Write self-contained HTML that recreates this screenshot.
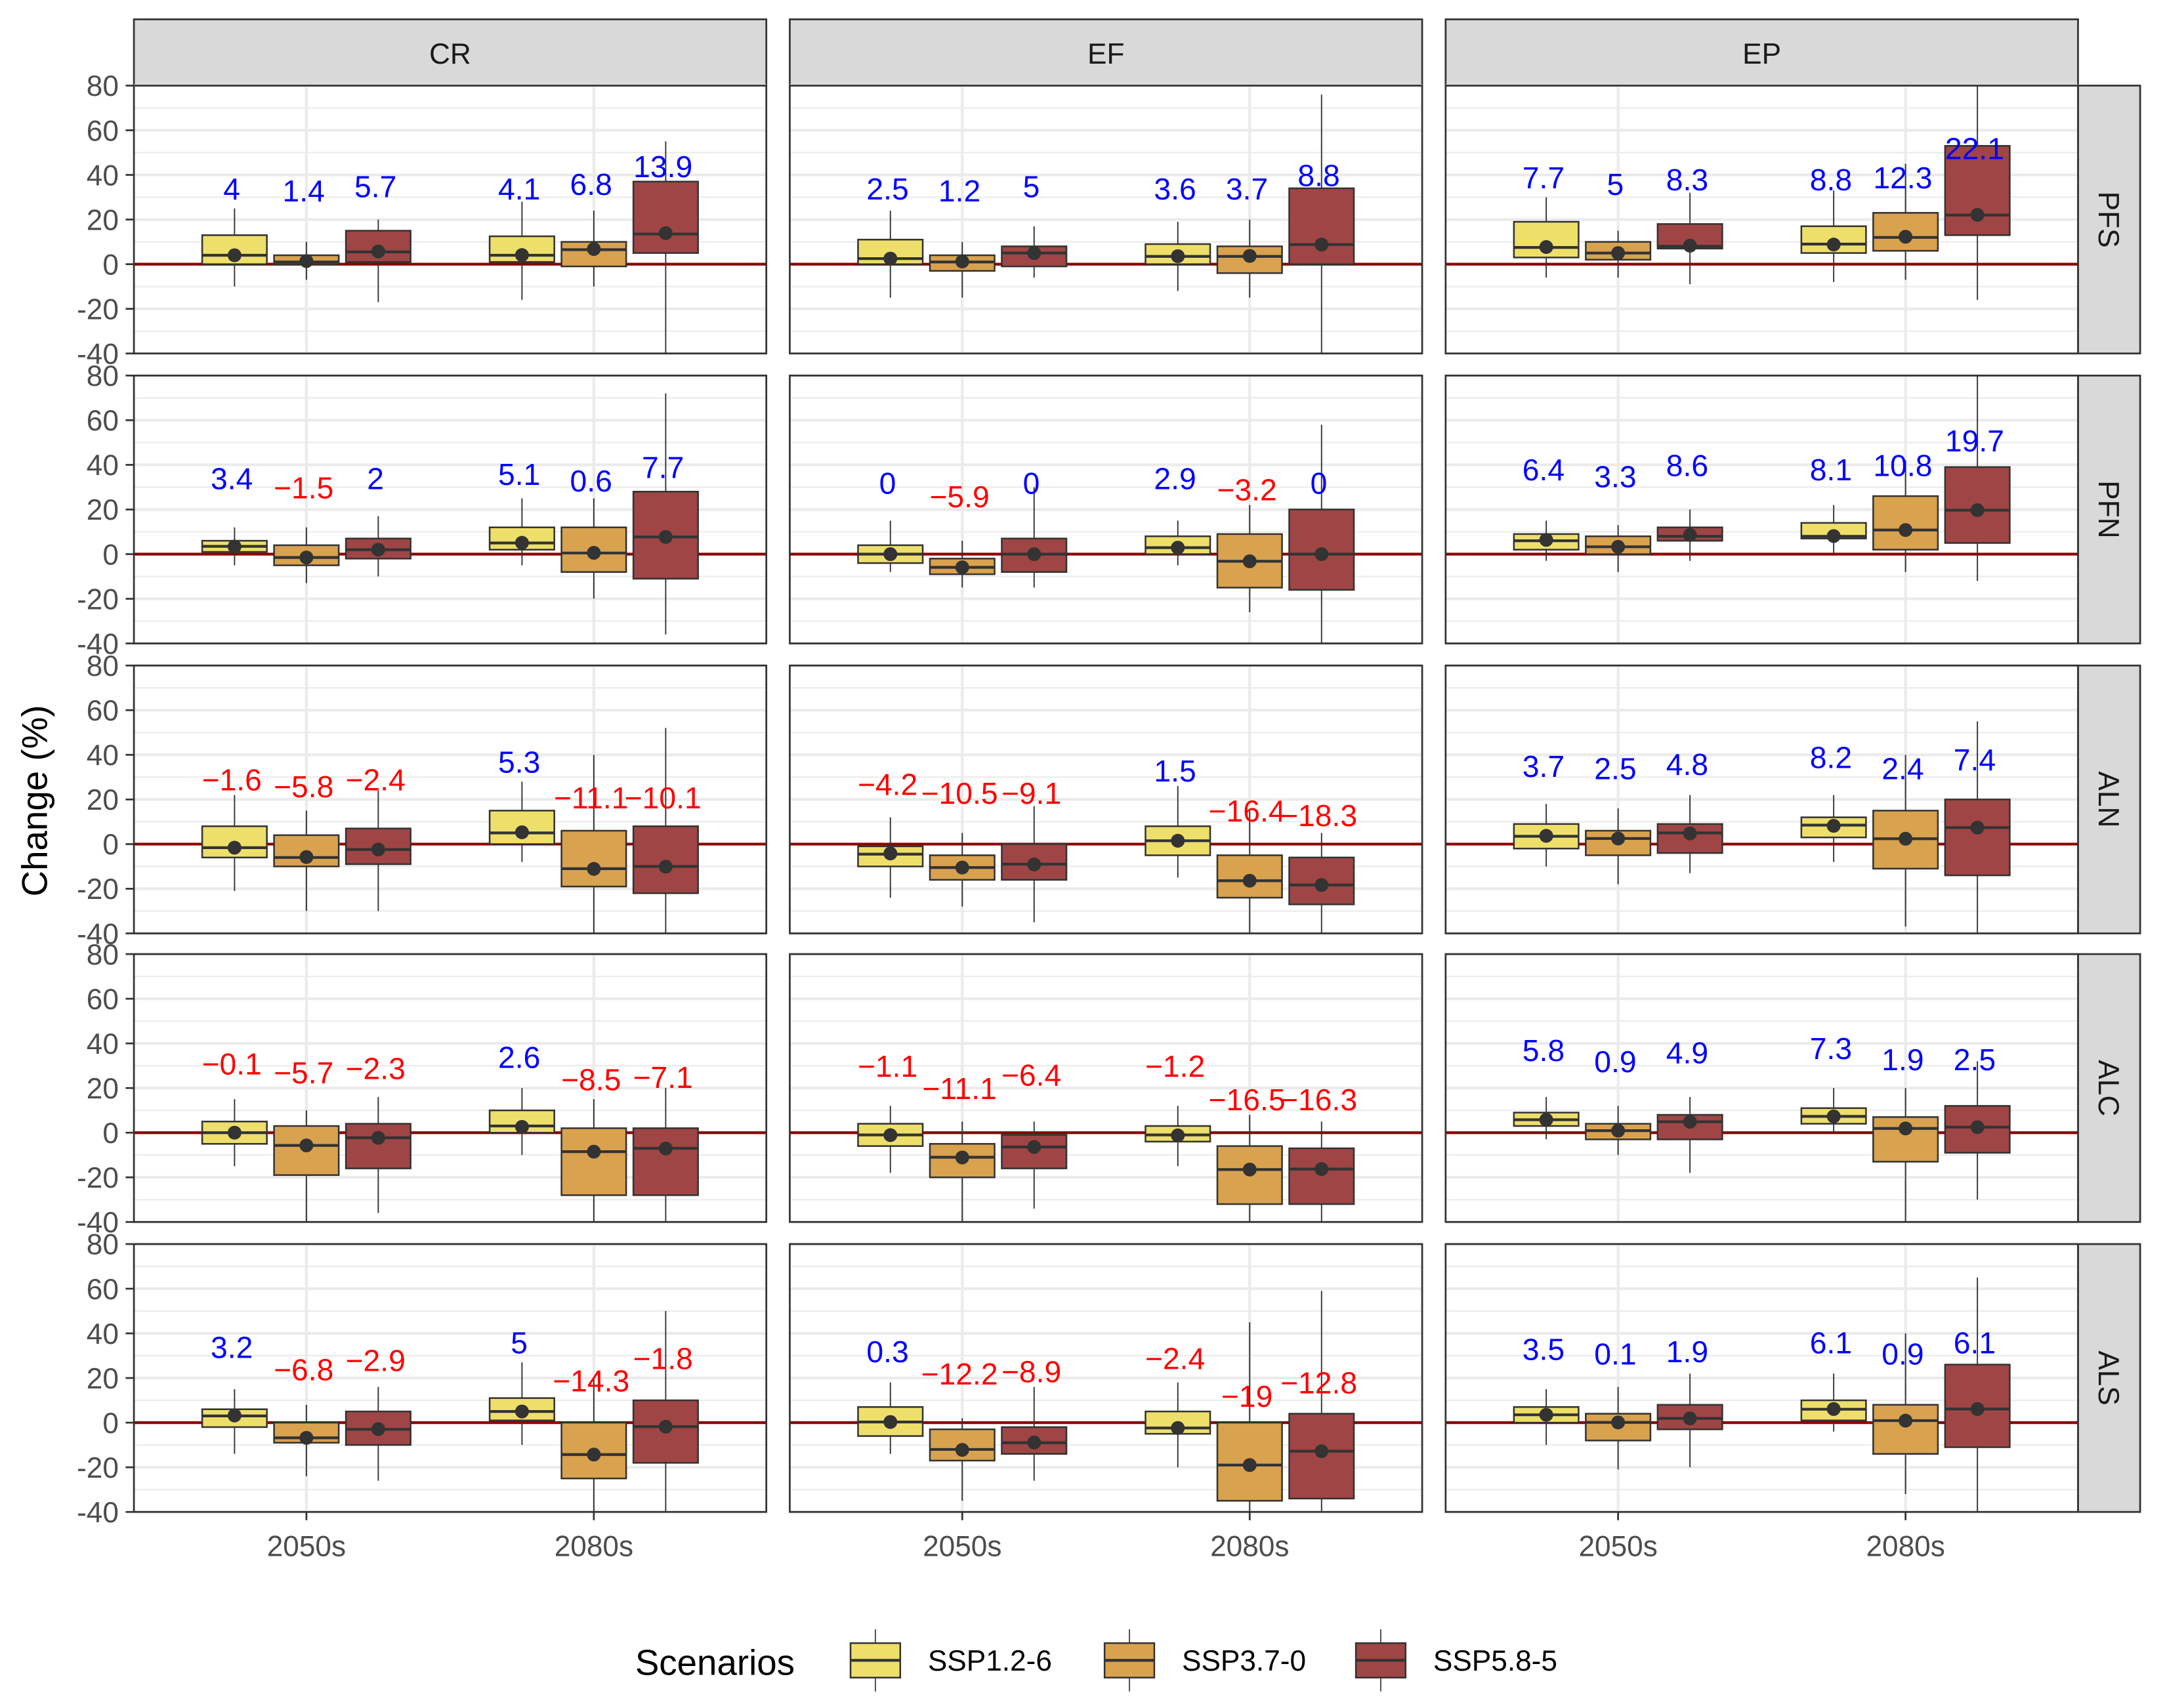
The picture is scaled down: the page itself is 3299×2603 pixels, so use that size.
<!DOCTYPE html>
<html><head><meta charset="utf-8"><style>
html,body{margin:0;padding:0;background:#fff;}
svg{display:block;font-family:"Liberation Sans",sans-serif;}
</style></head><body>
<svg id="chart" width="3299" height="2603" viewBox="0 0 1568 1237" preserveAspectRatio="none" xmlns="http://www.w3.org/2000/svg">
<rect width="1568" height="1237" fill="#fff"/>
<g id="plot"></g>
<text x="0" y="0" transform="translate(34,580) rotate(-90)" font-size="26" text-anchor="middle" fill="#000">Change (%)</text>
<g>
<text x="460" y="1213" font-size="26" fill="#000">Scenarios</text>
<g><line x1="634" y1="1180" x2="634" y2="1225" stroke="#333" stroke-width="0.8"/><rect x="616" y="1190" width="36" height="25" fill="#EEDF6B" stroke="#333" stroke-width="1.2"/><line x1="616" y1="1202.5" x2="652" y2="1202.5" stroke="#333" stroke-width="2"/><text x="672" y="1210" font-size="21" fill="#000">SSP1.2-6</text></g>
<g><line x1="818" y1="1180" x2="818" y2="1225" stroke="#333" stroke-width="0.8"/><rect x="800" y="1190" width="36" height="25" fill="#D9A24F" stroke="#333" stroke-width="1.2"/><line x1="800" y1="1202.5" x2="836" y2="1202.5" stroke="#333" stroke-width="2"/><text x="856" y="1210" font-size="21" fill="#000">SSP3.7-0</text></g>
<g><line x1="1000" y1="1180" x2="1000" y2="1225" stroke="#333" stroke-width="0.8"/><rect x="982" y="1190" width="36" height="25" fill="#A04545" stroke="#333" stroke-width="1.2"/><line x1="982" y1="1202.5" x2="1018" y2="1202.5" stroke="#333" stroke-width="2"/><text x="1038" y="1210" font-size="21" fill="#000">SSP5.8-5</text></g>
</g>
</svg>
<script>
const columns = ["CR","EF","EP"];
const rows = ["PFS","PFN","ALN","ALC","ALS"];
const periods = ["2050s","2080s"];
const scenarios = ["SSP1.2-6","SSP3.7-0","SSP5.8-5"];
const yTicks = [80,60,40,20,0,-20,-40];
const yTickLabels = ["80","60","40","20","0","-20","-40"];
// each entry: [whiskerLow, q1, median, q3, whiskerHigh, mean, labelY, labelText]
const boxStats = [
[[ [[-10,0,4,13,25,4,34,"4"],[-7,0,1,4,10,1.4,33,"1.4"],[-17,1,5.5,15,20,5.7,35,"5.7"]],
   [[-16,1,4,12.5,28,4.1,34,"4.1"],[-10,-1,6.5,10,24,6.8,36,"6.8"],[-40,5,13.5,37,55,13.9,44,"13.9"]] ],
 [ [[-15,0,2.5,11,24,2.5,34,"2.5"],[-15,-3,1,4,10,1.2,33,"1.2"],[-6,-1,5,8,17,5,35,"5"]],
   [[-12,0,3.5,9,19,3.6,34,"3.6"],[-15,-4,3.5,8,20,3.7,34,"3.7"],[-40,0,8.8,34,76,8.8,40,"8.8"]] ],
 [ [[-6,3,7.5,19,30,7.7,39,"7.7"],[-6,2,5,10,15,5,36,"5"],[-9,7,8,18,32,8.3,38,"8.3"]],
   [[-8,5,9,17,33,8.8,38,"8.8"],[-7,6,12,23,45,12.3,39,"12.3"],[-16,13,22,53,80,22.1,52,"22.1"]] ]],
[[ [[-5,1,3.5,6,12,3.4,34,"3.4"],[-13,-5,-1.5,4,12,-1.5,30,"−1.5"],[-10,-2,2,7,17,2,34,"2"]],
   [[-5,2,5,12,25,5.1,36,"5.1"],[-20,-8,0.5,12,25,0.6,33,"0.6"],[-36,-11,7.7,28,72,7.7,39,"7.7"]] ],
 [ [[-8,-4,0,4,15,0,32,"0"],[-15,-9,-5.9,-2,6,-5.9,26,"−5.9"],[-15,-8,0,7,30,0,32,"0"]],
   [[-5,0,2.9,8,15,2.9,34,"2.9"],[-26,-15,-3.2,9,22,-3.2,29,"−3.2"],[-40,-16,0,20,58,0,32,"0"]] ],
 [ [[-3,2,6,9,15,6.4,38,"6.4"],[-8,0,3.3,8,13,3.3,35,"3.3"],[-3,6,8,12,20,8.6,40,"8.6"]],
   [[0,7,8,14,22,8.1,38,"8.1"],[-8,2,10.8,26,42,10.8,40,"10.8"],[-12,5,19.7,39,80,19.7,51,"19.7"]] ]],
[[ [[-21,-6,-1.6,8,22,-1.6,29,"−1.6"],[-30,-10,-6,4,15,-5.8,26,"−5.8"],[-30,-9,-2.4,7,24,-2.4,29,"−2.4"]],
   [[-8,0,5,15,28,5.3,37,"5.3"],[-40,-19,-11,6,40,-11.1,21,"−11.1"],[-40,-22,-10,8,52,-10.1,21,"−10.1"]] ],
 [ [[-24,-10,-4.5,-1,12,-4.2,27,"−4.2"],[-28,-16,-10.5,-5,5,-10.5,23,"−10.5"],[-35,-16,-9,0,17,-9.1,23,"−9.1"]],
   [[-15,-5,1.5,8,26,1.5,33,"1.5"],[-40,-24,-16.4,-5,15,-16.4,15,"−16.4"],[-40,-27,-18.3,-6,5,-18.3,13,"−18.3"]] ],
 [ [[-10,-2,3.5,9,18,3.7,35,"3.7"],[-18,-5,2.5,6,16,2.5,34,"2.5"],[-13,-4,5,9,22,4.8,36,"4.8"]],
   [[-8,3,8.5,12,22,8.2,39,"8.2"],[-37,-11,2.4,15,40,2.4,34,"2.4"],[-40,-14,7.4,20,55,7.4,38,"7.4"]] ]],
[[ [[-15,-5,0,5,15,0,31,"−0.1"],[-40,-19,-5.7,3,10,-5.7,27,"−5.7"],[-36,-16,-2.3,4,16,-2.3,29,"−2.3"]],
   [[-10,0,3,10,20,2.6,34,"2.6"],[-40,-28,-8.5,2,15,-8.5,24,"−8.5"],[-40,-28,-7,2,20,-7.1,25,"−7.1"]] ],
 [ [[-18,-6,-1,4,12,-1.1,30,"−1.1"],[-40,-20,-11,-5,5,-11.1,20,"−11.1"],[-34,-16,-6.4,-1,5,-6.4,26,"−6.4"]],
   [[-15,-4,-1,3,12,-1.2,30,"−1.2"],[-40,-32,-16.5,-6,8,-16.5,15,"−16.5"],[-40,-32,-16.3,-7,5,-16.3,15,"−16.3"]] ],
 [ [[-3,3,5.8,9,16,5.8,37,"5.8"],[-10,-3,0.9,4,12,0.9,32,"0.9"],[-18,-3,4.9,8,16,4.9,36,"4.9"]],
   [[0,4,7.3,11,20,7.3,38,"7.3"],[-40,-13,1.9,7,20,1.9,33,"1.9"],[-30,-9,2.5,12,32,2.5,33,"2.5"]] ]],
[[ [[-14,-2,3,6,15,3.2,34,"3.2"],[-24,-9,-6.8,0,8,-6.8,24,"−6.8"],[-26,-10,-3,5,16,-2.9,28,"−2.9"]],
   [[-10,1,5,11,27,5,36,"5"],[-40,-25,-14.3,0,20,-14.3,19,"−14.3"],[-40,-18,-1.8,10,50,-1.8,29,"−1.8"]] ],
 [ [[-14,-6,0.3,7,18,0.3,32,"0.3"],[-35,-17,-12,-3,2,-12.2,22,"−12.2"],[-26,-14,-9,-2,16,-8.9,23,"−8.9"]],
   [[-20,-5,-2.4,5,18,-2.4,29,"−2.4"],[-40,-35,-19,0,45,-19,12,"−19"],[-40,-34,-12.8,4,59,-12.8,18,"−12.8"]] ],
 [ [[-10,0,3.5,7,15,3.5,33,"3.5"],[-21,-8,0.1,4,16,0.1,31,"0.1"],[-20,-3,1.9,8,22,1.9,32,"1.9"]],
   [[-4,1,6,10,22,6.1,36,"6.1"],[-32,-14,0.9,8,40,0.9,31,"0.9"],[-40,-11,6.1,26,65,6.1,36,"6.1"]] ]]
];
const colors = ["#EEDF6B","#D9A24F","#A04545"];
const NS = "http://www.w3.org/2000/svg";
const plot = document.getElementById('plot');
const colX = [97,572,1047], panelW = 458;
const rowY = [62,272,482,691,901], panelH = 194;
const yMin = -40, yMax = 80;
function mk(tag, attrs, parent){const e=document.createElementNS(NS,tag);for(const k in attrs)e.setAttribute(k,attrs[k]);(parent||plot).appendChild(e);return e;}
function yScale(r,v){return rowY[r] + (yMax - v)/(yMax-yMin)*panelH;}
function xScale(c,pos){return colX[c] + (pos-0.4)/2.2*panelW;}

columns.forEach((name,c)=>{
  const g=mk('g',{});
  
  
  mk('rect',{x:colX[c],y:14,width:panelW,height:48,fill:'#d9d9d9',stroke:'#333','stroke-width':1.3},g);
  const t=mk('text',{x:colX[c]+panelW/2,y:46,'font-size':21,'text-anchor':'middle',fill:'#1a1a1a'},g);t.textContent=name;
});
rows.forEach((name,r)=>{
  const g=mk('g',{});
  
  
  mk('rect',{x:1505,y:rowY[r],width:45,height:panelH,fill:'#d9d9d9',stroke:'#333','stroke-width':1.3},g);
  const t=mk('text',{x:0,y:0,transform:`translate(1520,${rowY[r]+panelH/2}) rotate(90)`,'font-size':21,'text-anchor':'middle',fill:'#1a1a1a'},g);t.textContent=name;
});

for(let r=0;r<rows.length;r++){
  const ax=mk('g',{});
  
  
  yTicks.forEach((v,i)=>{
    const y=yScale(r,v);
    mk('line',{x1:91,x2:97,y1:y,y2:y,stroke:'#333','stroke-width':1.3},ax);
    const t=mk('text',{x:86,y:y+7.5,'font-size':21,'text-anchor':'end',fill:'#4d4d4d'},ax);t.textContent=yTickLabels[i];
  });
  for(let c=0;c<columns.length;c++){
    const pg=mk('g',{});
    
    
    mk('rect',{x:colX[c],y:rowY[r],width:panelW,height:panelH,fill:'#fff'},pg);
    for(let v=yMin; v<=yMax; v+=10){
      const y=yScale(r,v);
      mk('line',{x1:colX[c],x2:colX[c]+panelW,y1:y,y2:y,stroke:'#ebebeb','stroke-width':(v%20===0)?2:1},pg);
    }
    periods.forEach((p,pi)=>{const x=xScale(c,pi+1);mk('line',{x1:x,x2:x,y1:rowY[r],y2:rowY[r]+panelH,stroke:'#ebebeb','stroke-width':2},pg);});
    const z=yScale(r,0);
    const zl=mk('line',{x1:colX[c],x2:colX[c]+panelW,y1:z,y2:z,stroke:'#8B0000','stroke-width':2},pg);
    
    
    periods.forEach((p,pi)=>{
      scenarios.forEach((s,si)=>{
        const d=boxStats[r][c][pi][si];
        const cx=xScale(c,pi+1+(si-1)*0.25), hw=0.1125/2.2*panelW;
        const bg=mk('g',{},pg);
        
        
        mk('line',{x1:cx,x2:cx,y1:yScale(r,d[0]),y2:yScale(r,d[4]),stroke:'#333','stroke-width':0.9},bg);
        mk('rect',{x:cx-hw,y:yScale(r,d[3]),width:2*hw,height:yScale(r,d[1])-yScale(r,d[3]),fill:colors[si],stroke:'#333','stroke-width':1.2},bg);
        mk('line',{x1:cx-hw,x2:cx+hw,y1:yScale(r,d[2]),y2:yScale(r,d[2]),stroke:'#333','stroke-width':2},bg);
        mk('circle',{cx:cx,cy:yScale(r,d[5]),r:5,fill:'#333'},bg);
        const t=mk('text',{x:cx-2,y:yScale(r,d[6])+8,'font-size':22,'text-anchor':'middle',fill:d[7].startsWith('−')?'#ff0000':'#0000ff'},bg);
        
        
        t.textContent=d[7];
      });
    });
    mk('rect',{x:colX[c],y:rowY[r],width:panelW,height:panelH,fill:'none',stroke:'#333','stroke-width':1.3},pg);
  }
}
columns.forEach((name,c)=>{
  const g=mk('g',{});
  
  
  periods.forEach((p,pi)=>{
    const x=xScale(c,pi+1);
    mk('line',{x1:x,x2:x,y1:1095,y2:1101,stroke:'#333','stroke-width':1.3},g);
    const t=mk('text',{x:x,y:1127,'font-size':21,'text-anchor':'middle',fill:'#4d4d4d'},g);t.textContent=p;
  });
});
</script>
</body></html>
